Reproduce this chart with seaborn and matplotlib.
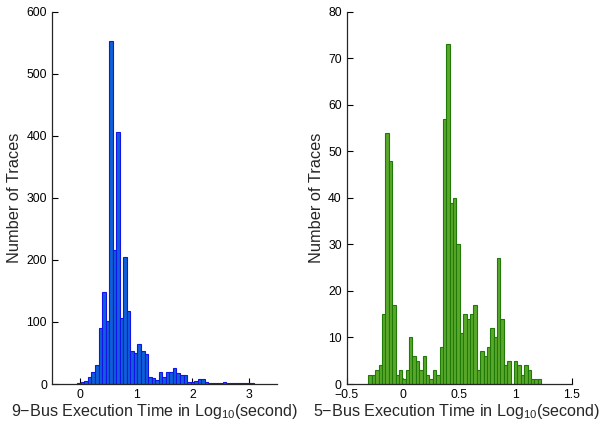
import pandas as pd
import matplotlib
matplotlib.use("Agg")
import matplotlib.pyplot as plt
import seaborn as sns

# 9-bus histogram: counts per bin
bus9_start = -0.048
bus9_width = 0.063
bus9_counts = [2, 3, 5, 11, 19, 30, 90, 148, 101, 553,
               216, 406, 106, 204, 117, 54, 50, 65, 54, 48,
               12, 10, 7, 20, 12, 19, 20, 26, 18, 14,
               14, 4, 4, 5, 8, 8, 3, 1, 2, 2,
               2, 3, 2, 1, 1, 1, 1, 2, 1, 2]

# 5-bus histogram
bus5_start = -0.307
bus5_width = 0.0301
bus5_counts = [2, 2, 3, 4, 15, 54, 48, 17, 2, 3,
               1, 3, 10, 6, 5, 3, 6, 2, 1, 3,
               2, 8, 57, 73, 39, 40, 30, 11, 15, 14,
               15, 17, 3, 7, 6, 8, 12, 10, 27, 14,
               4, 5, 0, 5, 4, 2, 4, 3, 1, 1, 1]

xlabels = ["9\u2212Bus Execution Time in Log$_{10}$(second)",
           "5\u2212Bus Execution Time in Log$_{10}$(second)"]
ylabel = "Number of Traces"

sns.set_style("ticks")
plt.rcParams['font.family'] = ['Liberation Sans', 'DejaVu Sans']
plt.rcParams['mathtext.fontset'] = 'custom'
plt.rcParams['mathtext.rm'] = 'Liberation Sans'
plt.rcParams['mathtext.it'] = 'Liberation Sans'
plt.rcParams['xtick.direction'] = 'in'
plt.rcParams['ytick.direction'] = 'in'


def draw_hist(ax, start, width, counts, face, edge):
    n = len(counts)
    centers = [start + width * (i + 0.5) for i in range(n)]
    df = pd.DataFrame({'t': centers, 'n': counts})
    sns.histplot(data=df, x='t', weights='n', binwidth=width,
                 binrange=(start, start + width * n), ax=ax,
                 color=face, edgecolor=edge, linewidth=0.8, alpha=1.0)


fig = plt.figure(figsize=(6.03, 4.22), dpi=100)
ax1 = fig.add_axes([0.086, 0.090, 0.373, 0.882])
ax2 = fig.add_axes([0.575, 0.090, 0.373, 0.882])

draw_hist(ax1, bus9_start, bus9_width, bus9_counts, '#0d60d6', '#1414e8')
draw_hist(ax2, bus5_start, bus5_width, bus5_counts, '#5aa82a', '#1f7a08')

ax1.set_xlim(-0.5, 3.5)
ax1.set_ylim(0, 600)
ax1.set_xticks([0, 1, 2, 3])
ax1.set_yticks(range(0, 601, 100))

ax2.set_xlim(-0.5, 1.5)
ax2.set_ylim(0, 80)
ax2.set_xticks([-0.5, 0, 0.5, 1, 1.5])
ax2.set_xticklabels(['\u22120.5', '0', '0.5', '1', '1.5'])
ax2.set_yticks(range(0, 81, 10))

label_x = [0.458, 0.49]
for ax, xl, lx in zip([ax1, ax2], xlabels, label_x):
    sns.despine(ax=ax)
    ax.spines['left'].set_linewidth(0.9)
    ax.spines['bottom'].set_linewidth(0.9)
    ax.tick_params(labelsize=8.8, length=4, width=0.8, colors='black')
    ax.set_xlabel(xl, fontsize=11.6)
    ax.xaxis.set_label_coords(lx, -0.047)
    ax.set_ylabel(ylabel, fontsize=11.8, labelpad=3)

fig.savefig("out.png", dpi=100)
